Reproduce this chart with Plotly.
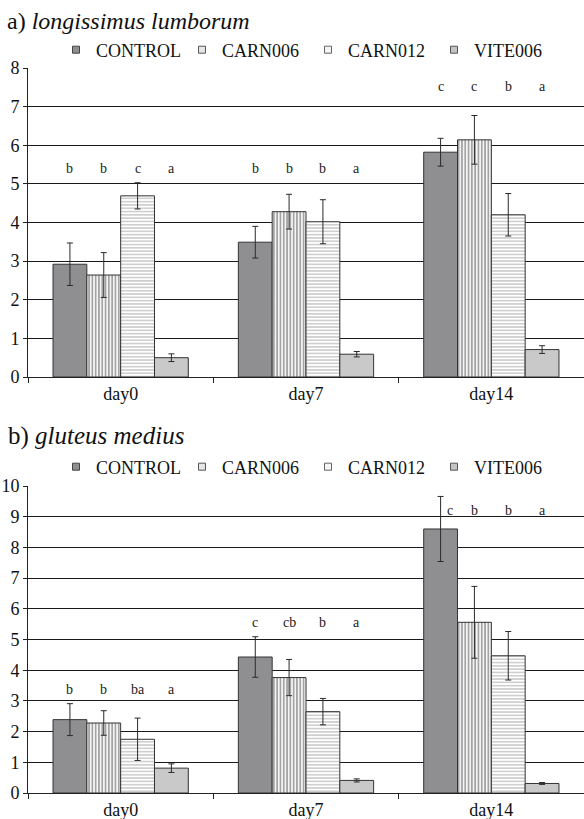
import plotly.graph_objects as go

# Treatments and sampling days
groups = ["CONTROL", "CARN006", "CARN012", "VITE006"]
days = ["day0", "day7", "day14"]

# a) longissimus lumborum: means and error (+/-)
ll_control = [2.92, 3.49, 5.82]
ll_carn006 = [2.64, 4.28, 6.14]
ll_carn012 = [4.69, 4.02, 4.20]
ll_vite006 = [0.50, 0.59, 0.71]
ll_control_err = [0.55, 0.41, 0.36]
ll_carn006_err = [0.58, 0.45, 0.63]
ll_carn012_err = [0.34, 0.57, 0.55]
ll_vite006_err = [0.10, 0.07, 0.10]
ll_letters = [["b", "b", "c", "a"], ["b", "b", "b", "a"], ["c", "c", "b", "a"]]
ll_letter_y = [5.40, 5.40, 7.52]

# b) gluteus medius: means and error (+/-)
gm_control = [2.39, 4.43, 8.60]
gm_carn006 = [2.28, 3.76, 5.56]
gm_carn012 = [1.75, 2.65, 4.47]
gm_vite006 = [0.81, 0.41, 0.31]
gm_control_err = [0.52, 0.66, 1.06]
gm_carn006_err = [0.40, 0.59, 1.17]
gm_carn012_err = [0.69, 0.43, 0.79]
gm_vite006_err = [0.14, 0.05, 0.03]
gm_letters = [["b", "b", "ba", "a"], ["c", "cb", "b", "a"], ["c", "b", "b", "a"]]
gm_letter_y = [3.37, 5.56, 9.19]

y_ticks_a = [0, 1, 2, 3, 4, 5, 6, 7, 8]
y_ticks_b = [0, 1, 2, 3, 4, 5, 6, 7, 8, 9, 10]

W, H = 584, 819
SERIF = "Liberation Serif"
OUTLINE = "#333333"
BARGAP = 0.27

styles = {
    "CONTROL": dict(color="#8f8f92", pattern=None),
    "CARN006": dict(color="#ffffff",
                    pattern=dict(shape="|", fgcolor="#9a9a9a", bgcolor="#f4f4f4",
                                 size=3.3, solidity=0.45, fillmode="replace")),
    "CARN012": dict(color="#ffffff",
                    pattern=dict(shape="-", fgcolor="#cfcfcf", bgcolor="#ffffff",
                                 size=3.3, solidity=0.5, fillmode="replace")),
    "VITE006": dict(color="#c9c9c9", pattern=None),
}
legend_marker = {
    "CONTROL": ("#8f8f92", "#444444"),
    "CARN006": ("#e6e6e6", "#555555"),
    "CARN012": ("#f4f4f4", "#666666"),
    "VITE006": ("#c4c4c4", "#555555"),
}

panels = [
    dict(xa="x", ya="y", legend="legend",
         series=[ll_control, ll_carn006, ll_carn012, ll_vite006],
         errs=[ll_control_err, ll_carn006_err, ll_carn012_err, ll_vite006_err],
         letters=ll_letters, letter_y=ll_letter_y, nudge={}),
    # the day14 CONTROL letter sits beside its tall error bar
    dict(xa="x2", ya="y2", legend="legend2",
         series=[gm_control, gm_carn006, gm_carn012, gm_vite006],
         errs=[gm_control_err, gm_carn006_err, gm_carn012_err, gm_vite006_err],
         letters=gm_letters, letter_y=gm_letter_y, nudge={(2, 0): 9}),
]

fig = go.Figure()
annotations = []
slot = (1 - BARGAP) / len(groups)

for p in panels:
    for g, vals, err in zip(groups, p["series"], p["errs"]):
        st = styles[g]
        marker = dict(color=st["color"], line=dict(color=OUTLINE, width=1))
        if st["pattern"]:
            marker["pattern"] = st["pattern"]
        fig.add_trace(go.Bar(
            x=days, y=vals, name=g, xaxis=p["xa"], yaxis=p["ya"],
            marker=marker, showlegend=False,
            error_y=dict(type="data", array=err, color="#2a2a2a",
                         thickness=1, width=3),
        ))
        # small square legend entry
        fill, edge = legend_marker[g]
        fig.add_trace(go.Scatter(
            x=[None], y=[None], mode="markers", name=g,
            xaxis=p["xa"], yaxis=p["ya"], legend=p["legend"],
            marker=dict(symbol="square", size=7, color=fill,
                        line=dict(color=edge, width=1)),
        ))
    # significance letters above each bar
    for i, (row, ly) in enumerate(zip(p["letters"], p["letter_y"])):
        for j, txt in enumerate(row):
            annotations.append(dict(
                x=i + (j - 1.5) * slot, y=ly, xref=p["xa"], yref=p["ya"],
                xshift=p["nudge"].get((i, j), 0),
                text=txt, showarrow=False,
                font=dict(family=SERIF, size=14, color="#222222"),
            ))

# plot-area edges in pixels
L = 28
a_top, a_bot = 68, 377
b_top, b_bot = 486, 793


def py(px):
    return (H - px) / H


def px_x(px):
    return (px - L) / (W - L)


annotations += [
    dict(xref="paper", yref="paper", x=px_x(5), y=py(21), xanchor="left",
         yanchor="middle", showarrow=False,
         text="a) <i>longissimus lumborum</i>",
         font=dict(family=SERIF, size=24, color="#111111")),
    dict(xref="paper", yref="paper", x=px_x(6), y=py(436), xanchor="left",
         yanchor="middle", showarrow=False,
         text="b) <i>gluteus medius</i>",
         font=dict(family=SERIF, size=25, color="#111111")),
]

axis_font = dict(family=SERIF, size=18, color="#111111")
xcommon = dict(type="category", showline=True, linecolor="#222222", linewidth=1,
               ticks="outside", tickson="boundaries", ticklen=5,
               tickcolor="#222222", showgrid=False, tickfont=axis_font,
               domain=[0, 1], fixedrange=True)
ycommon = dict(showline=True, linecolor="#222222", linewidth=1, ticks="outside",
               ticklen=4, tickcolor="#222222", showgrid=True,
               gridcolor="#1a1a1a", gridwidth=1, zeroline=False,
               tickfont=axis_font, dtick=1, fixedrange=True)

legend_common = dict(orientation="h", xref="paper", yref="paper",
                     xanchor="left", yanchor="middle",
                     font=dict(family=SERIF, size=18, color="#111111"),
                     entrywidth=81, entrywidthmode="pixels",
                     itemwidth=30, bgcolor="rgba(0,0,0,0)", tracegroupgap=0)

fig.update_layout(
    width=W, height=H,
    font=dict(family=SERIF),
    margin=dict(l=L, r=0, t=0, b=0, autoexpand=False),
    paper_bgcolor="white", plot_bgcolor="white",
    barmode="group", bargap=BARGAP, bargroupgap=0,
    xaxis=dict(**xcommon, anchor="y"),
    yaxis=dict(**ycommon, range=[0, 8], tickvals=y_ticks_a,
               domain=[py(a_bot), py(a_top)], anchor="x"),
    xaxis2=dict(**xcommon, anchor="y2"),
    yaxis2=dict(**ycommon, range=[0, 10], tickvals=y_ticks_b,
                domain=[py(b_bot), py(b_top)], anchor="x2"),
    legend=dict(**legend_common, x=px_x(56), y=py(50)),
    legend2=dict(**legend_common, x=px_x(56), y=py(467)),
    annotations=annotations,
    showlegend=True,
)

fig.write_html("out.html")
